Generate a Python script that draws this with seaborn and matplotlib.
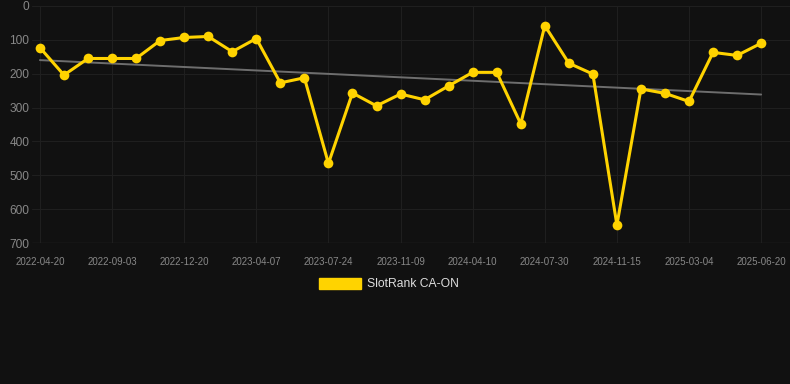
import matplotlib
matplotlib.use("Agg")
import matplotlib.pyplot as plt
import matplotlib.patches as mpatches
import seaborn as sns
import numpy as np
import pandas as pd

# fechas (una de cada tres aparece en el eje)
dates = ["2022-04-20", "2022-06-05", "2022-07-20", "2022-09-03", "2022-10-09",
         "2022-11-14", "2022-12-20", "2023-01-25", "2023-03-02", "2023-04-07",
         "2023-05-13", "2023-06-18", "2023-07-24", "2023-08-29", "2023-10-04",
         "2023-11-09", "2023-12-30", "2024-02-19", "2024-04-10", "2024-05-17",
         "2024-06-23", "2024-07-30", "2024-09-04", "2024-10-10", "2024-11-15",
         "2024-12-21", "2025-01-27", "2025-03-04", "2025-04-09", "2025-05-15",
         "2025-06-20"]
rank = [123, 204, 155, 155, 155, 102, 93, 90, 135, 96,
        227, 212, 465, 257, 295, 260, 277, 236, 196, 196,
        348, 58, 169, 201, 647, 245, 258, 282, 137, 146,
        110]

bg = "#111111"
gold = "#FFD300"

df = pd.DataFrame({"idx": np.arange(len(dates)), "date": dates, "rank": rank})

sns.set_style("dark")
plt.rcParams["font.family"] = ["Liberation Sans", "DejaVu Sans"]

fig = plt.figure(figsize=(7.9, 3.84), dpi=100, facecolor=bg)
ax = fig.add_axes([32 / 790, 1 - 243 / 384, 758 / 790, 237 / 384])
ax.set_facecolor(bg)

# linea de tendencia
sns.regplot(data=df, x="idx", y="rank", scatter=False, ci=None, ax=ax,
            line_kws={"color": "#6e6e6e", "linewidth": 1.4})

sns.lineplot(data=df, x="idx", y="rank", ax=ax, color=gold, linewidth=2.2,
             marker="o", markersize=7, markeredgewidth=0)

ax.set_ylim(700, 0)
ax.set_xlim(-0.33, 31.2)
ax.set_yticks(range(0, 701, 100))
ax.set_xticks(df["idx"][::3])
ax.set_xticklabels(df["date"][::3])
ax.tick_params(axis="x", labelsize=7, colors="#888888", length=0, pad=10)
ax.tick_params(axis="y", labelsize=8.6, colors="#888888", length=0, pad=2)
ax.grid(True, color="#1f1f1f", linewidth=0.8)
ax.set_xlabel("")
ax.set_ylabel("")
for s in ax.spines.values():
    s.set_visible(False)
ax.axhline(700, color="#262626", linewidth=1)

handle = mpatches.Patch(color=gold, label="SlotRank CA-ON")
fig.legend(handles=[handle], loc="center", bbox_to_anchor=(389 / 790, 1 - 284 / 384),
           frameon=False, fontsize=8.7, labelcolor="#dddddd",
           handlelength=3.4, handleheight=1.0, handletextpad=0.5)

fig.savefig("out.png", facecolor=bg)
